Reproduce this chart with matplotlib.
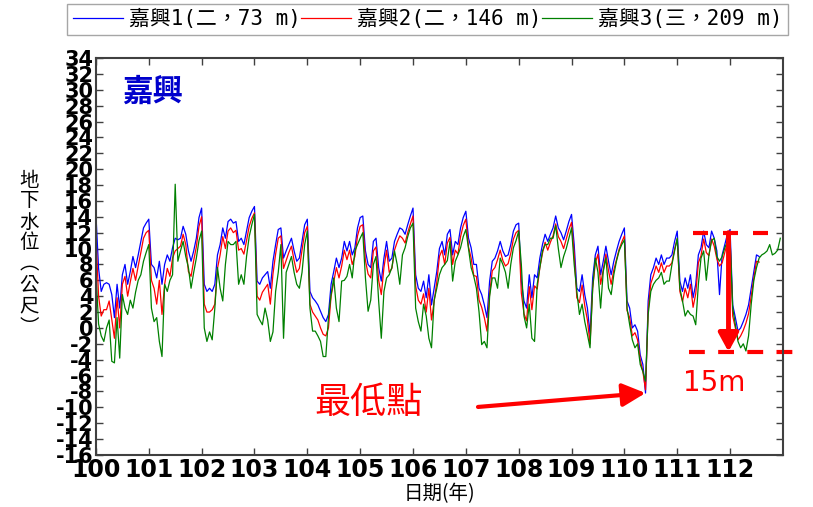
import numpy as np
import matplotlib.pyplot as plt

plt.rcParams['font.family'] = ['Noto Sans CJK TC', 'DejaVu Sans']

nan = np.nan

# groundwater level (m), one sample every 0.05 year, ROC years 100.00 - 112.95
years = np.round(np.arange(100, 113, 0.05), 2)

well1 = [
    14.3, 7.5, 4.6, 5.5, 5.7, 5.5, 4.2, 1.3, 5.5, 2.5, 6.7, 8.0, 5.5, 7.1, 9.0, 7.6, 9.2, 10.9, 12.6, 13.2,
    13.7, 8.0, 7.6, 6.3, 8.4, 5.5, 8.0, 9.2, 8.4, 10.1, 11.3, 11.1, 11.3, 12.8, 11.8, 9.7, 8.4, 9.7, 11.3, 13.9,
    15.1, 5.5, 4.6, 5.0, 4.6, 5.5, 9.2, 10.5, 12.6, 11.3, 13.4, 13.7, 13.2, 13.4, 10.9, 11.3, 10.5, 12.2, 13.9, 14.7,
    15.3, 5.9, 5.5, 6.3, 6.7, 7.1, 5.0, 8.4, 10.5, 12.4, 12.6, 8.8, 9.7, 10.5, 11.3, 9.7, 8.4, 8.8, 10.9, 13.0,
    13.7, 4.6, 3.8, 3.4, 2.9, 2.1, 1.3, 0.8, 1.7, 5.5, 7.1, 8.8, 7.6, 8.8, 10.9, 9.7, 10.9, 9.2, 10.1, 12.6,
    13.9, 14.1, 9.7, 8.0, 7.6, 10.9, 11.3, 7.6, 5.9, 8.8, 10.9, 8.4, 8.8, 10.9, 11.8, 12.6, 12.4, 11.8, 13.0, 14.1,
    15.1, 6.7, 5.0, 4.6, 5.9, 3.8, 6.7, 2.9, 5.0, 7.1, 10.0, 10.9, 9.2, 11.8, 12.4, 9.2, 10.9, 10.5, 12.6, 13.9,
    14.7, 11.3, 10.1, 8.0, 8.0, 5.0, 4.2, 2.9, 1.3, 5.9, 8.4, 8.8, 9.7, 10.9, 9.7, 9.0, 9.2, 10.5, 12.2, 13.0,
    13.2, 5.9, 3.4, 2.5, 6.7, 3.8, 6.7, 6.3, 8.8, 10.5, 11.8, 10.9, 11.8, 12.6, 14.1, 12.6, 12.0, 11.1, 12.2, 13.4,
    14.3, 10.5, 5.0, 4.6, 6.7, 4.2, 2.5, -0.8, 6.3, 9.2, 10.3, 6.7, 8.4, 10.3, 8.4, 6.7, 8.4, 9.7, 10.9, 11.8,
    12.6, 3.4, 2.5, 0.0, 0.4, -0.4, -3.4, -4.6, -8.2, 3.4, 6.7, 7.6, 8.8, 8.0, 9.2, 8.0, 8.8, 8.8, 9.2, 10.9,
    12.2, 5.9, 4.6, 6.3, 5.0, 6.7, 3.8, 5.5, 9.2, 10.1, 12.2, 10.5, 10.1, 12.2, 11.3, 9.7, 4.2, 9.2, 10.5, 11.8,
    12.4, 2.9, 1.3, -0.4, 0.0, 0.8, 1.7, 2.9, 5.0, 7.1, 9.2, 9.0, nan, nan, nan, nan, nan, nan, nan, nan,
]

well2 = [
    11.5, 4.0, 1.5, 2.3, 2.3, 3.4, 1.0, -1.3, 3.8, 0.0, 5.5, 6.5, 4.0, 5.8, 7.5, 6.0, 7.8, 9.5, 11.3, 12.0,
    12.3, 6.0, 5.0, 3.0, 6.0, 1.7, 5.5, 7.5, 6.5, 8.8, 9.7, 10.0, 10.3, 11.8, 10.5, 7.1, 6.5, 8.5, 10.2, 12.8,
    14.0, 3.0, 2.0, 2.0, 2.3, 3.0, 7.5, 9.2, 11.5, 10.0, 12.2, 12.6, 12.0, 12.3, 9.8, 10.0, 9.3, 11.0, 12.8, 13.8,
    14.5, 4.0, 3.5, 4.5, 5.0, 5.5, 3.0, 6.8, 9.3, 11.3, 11.6, 7.5, 8.5, 9.5, 10.3, 8.5, 7.0, 7.5, 9.8, 12.0,
    12.8, 3.0, 2.0, 1.5, 1.0, 0.0, -0.8, -1.0, 0.0, 4.0, 5.8, 7.6, 6.3, 7.8, 9.8, 8.6, 9.8, 8.0, 9.0, 11.6,
    12.8, 13.0, 8.5, 6.8, 6.3, 9.7, 10.2, 6.0, 4.2, 7.6, 9.8, 7.0, 7.5, 9.8, 10.8, 11.6, 11.3, 10.7, 12.0, 13.1,
    14.1, 5.3, 3.5, 3.0, 4.3, 2.0, 5.0, 1.0, 3.3, 5.8, 9.0, 9.8, 8.0, 10.7, 11.4, 8.0, 9.8, 9.3, 11.5, 12.9,
    13.7, 10.2, 8.8, 6.6, 6.5, 3.5, 2.6, 1.3, -0.4, 4.3, 7.2, 7.6, 8.6, 9.8, 8.5, 7.8, 8.1, 9.4, 11.2, 12.0,
    12.3, 4.4, 1.8, 0.9, 5.2, 2.3, 5.3, 4.9, 7.6, 9.4, 10.8, 9.8, 10.8, 11.6, 13.1, 11.5, 10.9, 10.0, 11.2, 12.4,
    13.3, 9.3, 3.8, 3.2, 5.4, 2.8, 1.0, -2.0, 5.0, 8.2, 9.3, 5.5, 7.3, 9.3, 7.2, 5.5, 7.3, 8.6, 9.9, 10.8,
    11.6, 2.2, 1.3, -1.0, -0.6, -1.5, -4.0, -5.5, -7.8, 2.2, 5.6, 6.6, 7.8, 7.0, 8.2, 7.0, 7.8, 7.8, 8.2, 9.9,
    11.2, 4.6, 3.3, 5.0, 3.8, 5.5, 2.6, 4.3, 8.2, 9.1, 11.2, 9.5, 9.1, 11.2, 10.3, 8.7, 7.8, 8.2, 9.5, 10.8,
    11.4, 1.5, 0.0, -1.5, -1.0, -0.3, 0.6, 1.8, 4.0, 6.3, 8.4, 8.3, nan, nan, nan, nan, nan, nan, nan, nan,
]

well3 = [
    7.0, 0.5, -1.0, -1.7, 0.0, 1.0, -4.2, -4.4, 1.3, -3.8, 4.2, 2.5, 1.7, 3.5, 2.5, 4.5, 6.0, 6.7, 8.4, 9.5,
    10.5, 2.5, 0.8, 1.3, -1.7, -3.6, 5.5, 4.6, 6.0, 6.7, 18.1, 8.4, 9.7, 10.9, 9.0, 7.6, 5.0, 7.0, 8.8, 11.0,
    12.2, 0.0, -1.7, -0.5, -1.5, 2.5, 7.6, 5.0, 3.4, 8.0, 10.9, 10.5, 10.5, 10.9, 5.5, 6.7, 5.5, 9.0, 11.5, 13.0,
    14.3, 1.7, 1.0, 0.4, 2.5, 1.0, -1.7, -0.5, 4.6, 7.0, 10.5, -1.3, 7.0, 8.0, 9.0, 7.0, 5.5, 5.0, 7.0, 10.5,
    12.2, 2.5, -0.4, -0.4, -1.0, -1.7, -3.6, -3.6, 1.3, 4.2, 6.3, 2.5, 0.8, 5.9, 6.0, 6.5, 8.0, 6.3, 9.7, 10.5,
    11.3, 12.0, 6.3, 2.1, 3.5, 8.0, 9.0, 3.4, -1.3, 4.6, 6.3, 6.7, 7.6, 9.7, 8.0, 5.5, 9.2, 10.1, 11.5, 12.6,
    13.2, 2.5, 0.8, -0.4, 3.0, 1.5, -1.3, -2.5, 3.5, 5.0, 6.7, 7.6, 8.0, 8.5, 10.9, 5.9, 8.4, 9.2, 10.1, 11.5,
    12.4, 10.0, 7.6, 6.5, 5.0, 2.0, -2.1, -1.7, -2.5, 4.0, 6.3, 6.3, 5.0, 8.8, 8.0, 7.0, 5.0, 8.0, 10.1, 11.0,
    12.2, 8.0, 1.5, 0.0, 3.0, -1.3, -1.7, 5.5, 7.6, 9.7, 10.5, 10.5, 11.3, 11.3, 12.9, 10.0, 7.6, 9.0, 10.0, 11.3,
    12.6, 8.0, 4.6, 1.7, 3.0, 0.8, -0.8, -2.5, 5.0, 8.8, 7.0, 2.5, 7.1, 8.8, 5.0, 4.2, 6.7, 8.4, 9.7, 10.5,
    11.1, 2.5, 0.4, -1.5, -2.5, -2.0, -4.6, -5.5, -6.7, 1.7, 4.6, 5.5, 6.0, 6.3, 7.0, 5.5, 5.9, 5.9, 8.0, 9.7,
    11.3, 5.0, 3.4, 1.5, 2.2, 1.7, 1.5, 0.4, 5.5, 8.8, 9.7, 6.0, 9.2, 11.0, 11.3, 9.0, 8.4, 9.0, 10.1, 10.9,
    11.1, 2.5, 0.4, -1.7, -2.5, -2.0, -2.9, -1.0, 3.0, 6.0, 7.6, 8.8, 9.2, 9.4, 9.7, 10.5, 9.2, 9.4, 9.8, 11.3,
]

labels = ['嘉興1(二，73 m)', '嘉興2(二，146 m)', '嘉興3(三，209 m)']
colors = ['#0000ff', '#ff0000', '#008000']

year_ticks = list(range(100, 113))
level_ticks = list(range(-16, 35, 2))

# annotation values
low_point = (110.40, -8.2)
swing = 15
swing_mid = 4.5
swing_x = 111.97

fig = plt.figure(figsize=(8.13, 5.07), dpi=100)
ax = fig.add_axes([0.118, 0.1026, 0.845, 0.783])

for series, label, color in zip([well1, well2, well3], labels, colors):
    ax.plot(years, series, color=color, lw=0.9, label=label)

ax.set_xlim(100, 113)
ax.set_ylim(-16, 34)
ax.set_xticks(year_ticks)
ax.set_yticks(level_ticks)
ax.set_xticklabels([str(v) for v in year_ticks], fontsize=17, fontweight='bold',
                   family='Liberation Sans Narrow')
ax.set_yticklabels([str(v) for v in level_ticks], fontsize=15, fontweight='bold',
                   family='Liberation Sans Narrow')
ax.tick_params(direction='in', length=5, width=1, color='#404040', pad=2,
               top=True, right=True)
for sp in ax.spines.values():
    sp.set_color('#404040')
    sp.set_linewidth(1.5)

ax.set_xlabel('日期(年)', fontsize=14, labelpad=1)
fig.text(0.036, 0.50, '地\n下\n水\n位\n︵\n公\n尺\n︶', fontsize=14,
         ha='center', va='center', linespacing=1.0)

ax.text(101.08, 29.7, '嘉興', color='#0000cc', fontsize=22, fontweight='bold',
        ha='center', va='center')

leg = fig.legend(loc='upper left', bbox_to_anchor=(0.083, 0.992), ncol=3,
                 prop={'family': ['DejaVu Sans Mono', 'Noto Sans CJK TC'], 'size': 15},
                 frameon=True, fancybox=False, edgecolor='#909090',
                 handlelength=2.4, handletextpad=0.3, columnspacing=0.0,
                 borderpad=0.25, borderaxespad=0)
leg.get_frame().set_linewidth(1.0)

# 15 m swing marker
top = swing_mid + swing / 2
bottom = swing_mid - swing / 2
ax.plot([111.29, 112.72], [top, top], color='red', lw=3, linestyle=(0, (3.6, 3.6)),
        clip_on=False)
ax.plot([111.23, 113.2], [bottom, bottom], color='red', lw=3, linestyle=(0, (3.8, 3.2)),
        clip_on=False)
ax.annotate('', xy=(swing_x, bottom), xytext=(swing_x, top),
            arrowprops=dict(arrowstyle='-|>,head_width=0.3,head_length=0.55',
                            color='red', lw=3.5, mutation_scale=20,
                            shrinkA=0, shrinkB=0))
ax.text(111.69, -6.9, f'{swing}m', color='red', fontsize=20, ha='center', va='center',
        family='DejaVu Sans')

# lowest level marker
ax.annotate('', xy=low_point, xytext=(107.23, -9.95),
            arrowprops=dict(arrowstyle='-|>,head_width=0.35,head_length=0.7',
                            color='red', lw=3, mutation_scale=20,
                            shrinkA=0, shrinkB=0))
ax.text(105.15, -9.45, '最低點', color='red', fontsize=26, ha='center', va='center')

fig.savefig('out.png', dpi=100, facecolor='white')
